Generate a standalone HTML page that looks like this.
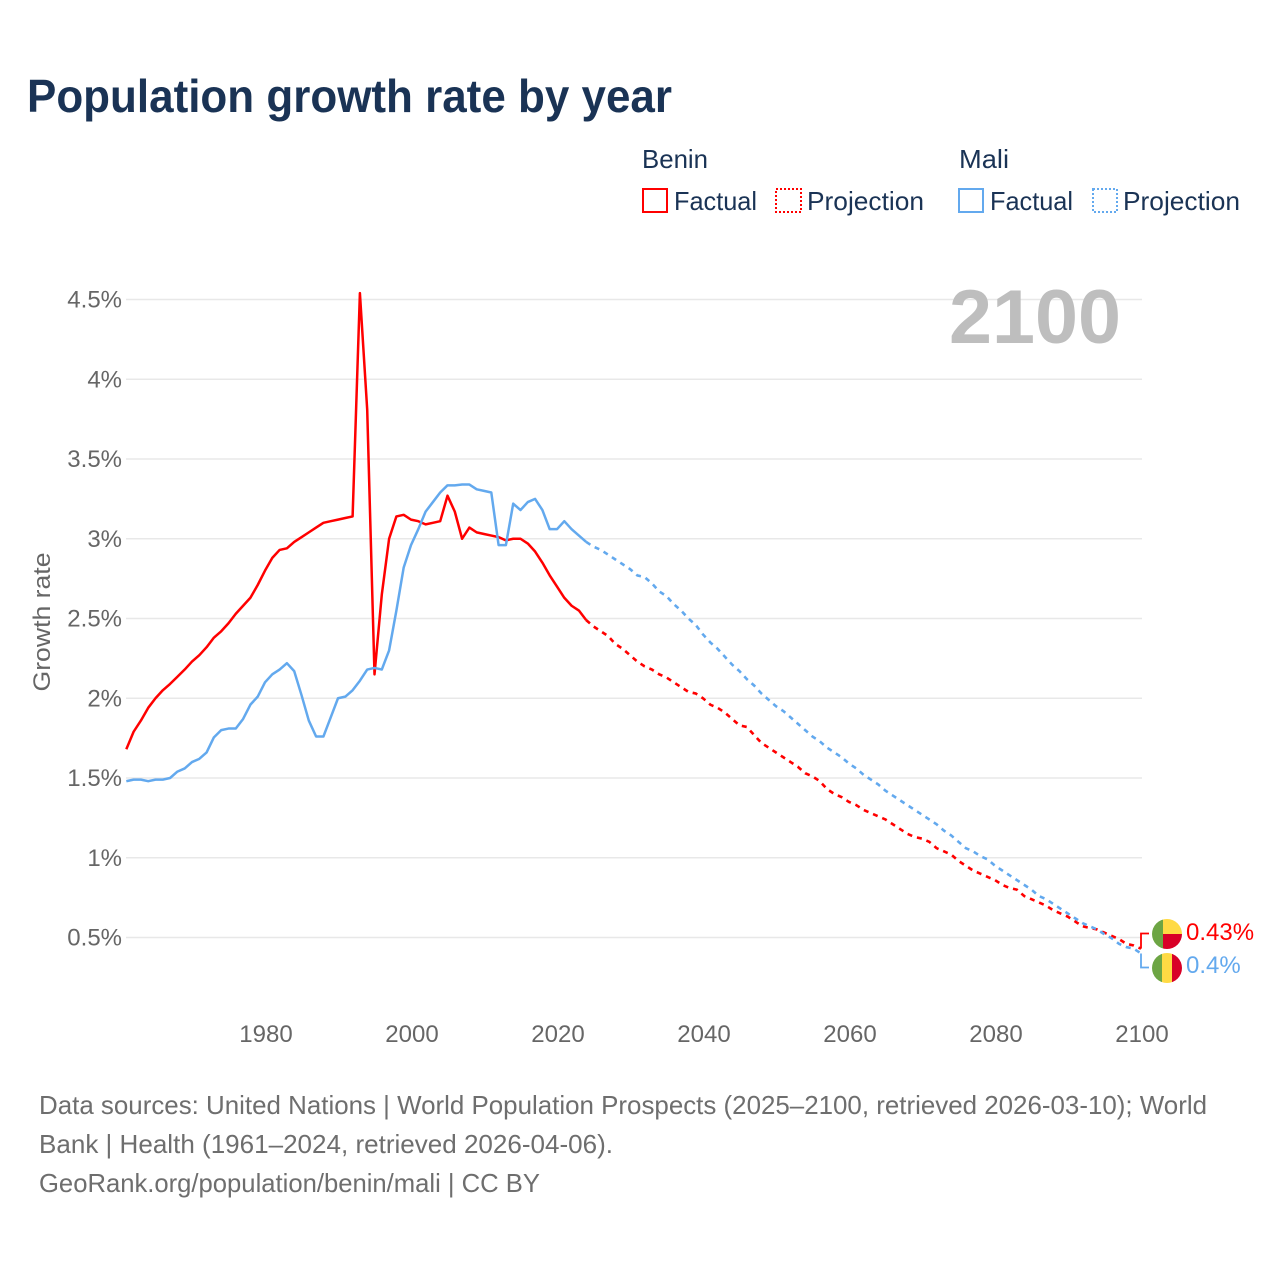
<!DOCTYPE html>
<html lang="en">
<head>
<meta charset="utf-8">
<title>Population growth rate by year</title>
<style>
html,body{margin:0;padding:0;background:#fff;}
svg{display:block;font-family:"Liberation Sans",sans-serif;}
</style>
</head>
<body>
<svg id="chart" xmlns="http://www.w3.org/2000/svg" width="1280" height="1280" viewBox="0 0 1280 1280">
  <rect x="0" y="0" width="1280" height="1280" fill="#ffffff"/>
  <text x="27" y="112" font-size="46" font-weight="700" fill="#1a3355" textLength="645" lengthAdjust="spacingAndGlyphs">Population growth rate by year</text>

  <g font-size="26" fill="#1a3355">
    <text x="642" y="168" textLength="66" lengthAdjust="spacingAndGlyphs">Benin</text>
    <rect x="643" y="189" width="24" height="23" fill="none" stroke="#ff0000" stroke-width="2"/>
    <text x="674" y="210" textLength="83" lengthAdjust="spacingAndGlyphs">Factual</text>
    <rect x="776" y="189" width="25" height="23" fill="none" stroke="#ff0000" stroke-width="2" stroke-dasharray="2 2"/>
    <text x="807" y="210" textLength="117" lengthAdjust="spacingAndGlyphs">Projection</text>
    <text x="959" y="168" textLength="50" lengthAdjust="spacingAndGlyphs">Mali</text>
    <rect x="959" y="189" width="24" height="23" fill="none" stroke="#63a9ee" stroke-width="2"/>
    <text x="990" y="210" textLength="83" lengthAdjust="spacingAndGlyphs">Factual</text>
    <rect x="1093" y="189" width="24" height="23" fill="none" stroke="#63a9ee" stroke-width="2" stroke-dasharray="2 2"/>
    <text x="1123" y="210" textLength="117" lengthAdjust="spacingAndGlyphs">Projection</text>
  </g>

  <g id="grid"></g>
  <g id="yTicks" font-size="24" fill="#666666" text-anchor="end"></g>
  <g id="xTicks" font-size="24" fill="#666666" text-anchor="middle"></g>
  <text transform="translate(50,622) rotate(-90)" font-size="24" fill="#666666" text-anchor="middle" textLength="139" lengthAdjust="spacingAndGlyphs">Growth rate</text>
  <text x="949" y="343" font-size="76" font-weight="700" fill="#bebebe" textLength="172" lengthAdjust="spacingAndGlyphs">2100</text>

  <g id="series"></g>
  <g id="endMarks"></g>

  <g>
    <clipPath id="clipBenin"><circle cx="1167" cy="934" r="15"/></clipPath>
    <g clip-path="url(#clipBenin)">
      <rect x="1152" y="919" width="11" height="30" fill="#6da544"/>
      <rect x="1163" y="919" width="19" height="15" fill="#ffda44"/>
      <rect x="1163" y="934" width="19" height="15" fill="#d80027"/>
    </g>
  </g>
  <g>
    <clipPath id="clipMali"><circle cx="1167" cy="968" r="15"/></clipPath>
    <g clip-path="url(#clipMali)">
      <rect x="1152" y="953" width="10" height="30" fill="#6da544"/>
      <rect x="1162" y="953" width="10" height="30" fill="#ffda44"/>
      <rect x="1172" y="953" width="10" height="30" fill="#d80027"/>
    </g>
  </g>

  <g font-size="26" fill="#6e6e6e">
    <text x="39" y="1114" textLength="1168" lengthAdjust="spacingAndGlyphs">Data sources: United Nations | World Population Prospects (2025–2100, retrieved 2026-03-10); World</text>
    <text x="39" y="1153" textLength="574" lengthAdjust="spacingAndGlyphs">Bank | Health (1961–2024, retrieved 2026-04-06).</text>
    <text x="39" y="1192" textLength="501" lengthAdjust="spacingAndGlyphs">GeoRank.org/population/benin/mali | CC BY</text>
  </g>
</svg>
<script>
var factualStartYear = 1961;
var projectionStartYear = 2024;
var yTickValues = [0.5, 1, 1.5, 2, 2.5, 3, 3.5, 4, 4.5];
var yTickLabels = ["0.5%", "1%", "1.5%", "2%", "2.5%", "3%", "3.5%", "4%", "4.5%"];
var xTickYears = [1980, 2000, 2020, 2040, 2060, 2080, 2100];
var beninFactual = [1.68,1.79,1.86,1.94,2.00,2.05,2.09,2.135,2.18,2.23,2.27,2.32,2.38,2.42,2.47,2.53,2.58,2.63,2.71,2.80,2.88,2.93,2.94,2.98,3.01,3.04,3.07,3.10,3.11,3.12,3.13,3.14,4.54,3.81,2.15,2.65,3.00,3.14,3.15,3.12,3.11,3.09,3.10,3.11,3.27,3.17,3.00,3.07,3.04,3.03,3.02,3.01,2.99,3.00,3.00,2.97,2.92,2.85,2.77,2.70,2.63,2.58,2.55,2.49];
var beninProjection = [2.49,2.45,2.42,2.39,2.34,2.31,2.27,2.23,2.20,2.18,2.15,2.13,2.10,2.07,2.04,2.03,2.00,1.96,1.94,1.91,1.87,1.83,1.82,1.77,1.72,1.69,1.66,1.63,1.60,1.57,1.53,1.51,1.48,1.43,1.40,1.38,1.35,1.33,1.30,1.28,1.26,1.24,1.21,1.18,1.15,1.13,1.12,1.10,1.06,1.04,1.02,0.98,0.95,0.92,0.90,0.88,0.86,0.83,0.81,0.80,0.76,0.74,0.72,0.70,0.67,0.65,0.63,0.60,0.57,0.56,0.55,0.53,0.51,0.49,0.46,0.45,0.43];
var maliFactual = [1.48,1.49,1.49,1.48,1.49,1.49,1.50,1.54,1.56,1.60,1.62,1.66,1.755,1.80,1.81,1.81,1.87,1.96,2.01,2.10,2.15,2.18,2.22,2.17,2.02,1.86,1.76,1.76,1.88,2.00,2.01,2.05,2.11,2.18,2.19,2.18,2.30,2.55,2.82,2.96,3.06,3.17,3.23,3.29,3.335,3.335,3.34,3.34,3.31,3.30,3.29,2.96,2.96,3.22,3.18,3.23,3.25,3.18,3.06,3.06,3.11,3.06,3.02,2.98];
var maliProjection = [2.98,2.95,2.93,2.90,2.87,2.84,2.81,2.77,2.76,2.72,2.67,2.64,2.59,2.55,2.50,2.46,2.40,2.35,2.31,2.26,2.21,2.17,2.12,2.08,2.03,1.99,1.95,1.92,1.88,1.84,1.80,1.76,1.73,1.69,1.66,1.63,1.59,1.56,1.52,1.49,1.46,1.42,1.39,1.36,1.33,1.30,1.27,1.24,1.21,1.17,1.14,1.10,1.06,1.04,1.01,0.99,0.95,0.92,0.89,0.86,0.83,0.80,0.76,0.74,0.71,0.68,0.65,0.62,0.59,0.57,0.55,0.52,0.495,0.46,0.44,0.43,0.40];
var endLabels = ["0.43%", "0.4%"];

var NS = "http://www.w3.org/2000/svg";
var RED = "#ff0000";
var BLUE = "#63a9ee";

function xScale(year) {
  return 265 + (year - 1980) * 7.3;
}
function yScale(value) {
  return 937.5 - (value - 0.5) * 159.5;
}
function make(tag, parentId) {
  var el = document.createElementNS(NS, tag);
  document.getElementById(parentId).appendChild(el);
  return el;
}
function linePath(values, startYear) {
  var d = "";
  for (var i = 0; i < values.length; i++) {
    d += (i ? "L" : "M") + xScale(startYear + i).toFixed(2) + " " + yScale(values[i]).toFixed(2);
  }
  return d;
}

yTickValues.forEach(function (v, i) {
  var line = make("line", "grid");
  
  
  line.setAttribute("x1", 126);
  line.setAttribute("x2", 1142);
  line.setAttribute("y1", yScale(v));
  line.setAttribute("y2", yScale(v));
  line.setAttribute("stroke", "#e8e8e8");
  line.setAttribute("stroke-width", "1.5");
  var label = make("text", "yTicks");
  
  
  label.setAttribute("x", 122);
  label.setAttribute("y", yScale(v) + 8);
  label.textContent = yTickLabels[i];
});

xTickYears.forEach(function (year) {
  var label = make("text", "xTicks");
  
  
  label.setAttribute("x", xScale(year) + 1);
  label.setAttribute("y", 1042);
  label.textContent = String(year);
});

var benProj = make("path", "series");


benProj.setAttribute("d", linePath(beninProjection, projectionStartYear));
benProj.setAttribute("fill", "none");
benProj.setAttribute("stroke", RED);
benProj.setAttribute("stroke-width", "2.6");
benProj.setAttribute("stroke-dasharray", "5 5");

var benFact = make("path", "series");


benFact.setAttribute("d", linePath(beninFactual, factualStartYear));
benFact.setAttribute("fill", "none");
benFact.setAttribute("stroke", RED);
benFact.setAttribute("stroke-width", "2.5");
benFact.setAttribute("stroke-linejoin", "round");

var malProj = make("path", "series");


malProj.setAttribute("d", linePath(maliProjection, projectionStartYear));
malProj.setAttribute("fill", "none");
malProj.setAttribute("stroke", BLUE);
malProj.setAttribute("stroke-width", "2.6");
malProj.setAttribute("stroke-dasharray", "5 5");

var malFact = make("path", "series");


malFact.setAttribute("d", linePath(maliFactual, factualStartYear));
malFact.setAttribute("fill", "none");
malFact.setAttribute("stroke", BLUE);
malFact.setAttribute("stroke-width", "2.5");
malFact.setAttribute("stroke-linejoin", "round");

var lastX = xScale(2100);
var benConn = make("path", "endMarks");


benConn.setAttribute("d", "M" + lastX + " " + yScale(beninProjection[beninProjection.length - 1]) + "V933.5H1149");
benConn.setAttribute("fill", "none");
benConn.setAttribute("stroke", RED);
benConn.setAttribute("stroke-width", "1.8");

var malConn = make("path", "endMarks");


malConn.setAttribute("d", "M" + lastX + " " + yScale(maliProjection[maliProjection.length - 1]) + "V967.5H1149");
malConn.setAttribute("fill", "none");
malConn.setAttribute("stroke", BLUE);
malConn.setAttribute("stroke-width", "1.8");

var benLabel = make("text", "endMarks");


benLabel.setAttribute("x", 1186);
benLabel.setAttribute("y", 940);
benLabel.setAttribute("font-size", "24");
benLabel.setAttribute("fill", RED);
benLabel.textContent = endLabels[0];

var malLabel = make("text", "endMarks");


malLabel.setAttribute("x", 1186);
malLabel.setAttribute("y", 973);
malLabel.setAttribute("font-size", "24");
malLabel.setAttribute("fill", BLUE);
malLabel.textContent = endLabels[1];
</script>
</body>
</html>
